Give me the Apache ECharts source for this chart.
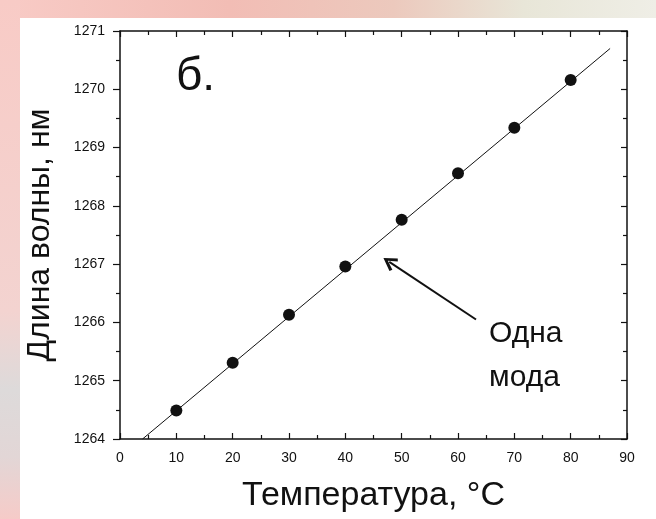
<!DOCTYPE html>
<html>
<head>
<meta charset="utf-8">
<script src="https://cdn.jsdelivr.net/npm/echarts@6/dist/echarts.min.js"></script>
<style>
html,body{margin:0;padding:0;}
#chart{width:656px;height:519px;}
</style>
</head>
<body>
<div id="chart"></div>
<script>
// данные
var temps = [10, 20, 30, 40, 50, 60, 70, 80];
var waves = [1264.49, 1265.31, 1266.13, 1266.96, 1267.76, 1268.56, 1269.34, 1270.16];
// прямая аппроксимации (концы)
var fitX = [4, 87];
var fitY = [1264.0, 1270.7];
// стрелка "Одна мода": хвост -> остриё
var arrowX = [63.2, 47.8];
var arrowY = [1266.05, 1267.04];

var chart = echarts.init(document.getElementById('chart'));
var font = 'Liberation Sans, Arial, sans-serif';

var pts = [];
for (var i = 0; i < temps.length; i++) pts.push([temps[i], waves[i]]);
var fit = [];
for (var j = 0; j < fitX.length; j++) fit.push([fitX[j], fitY[j]]);

var tickStyle = {color: '#111', width: 1.2};
// открытая "галочка" для острия стрелки
var chevron = 'path://M0,0 L7,11.5 L4.6,13.2 L0,5 L-4.6,13.2 L-7,11.5 Z';

var option = {
    backgroundColor: '#ffffff',
    animation: false,
    graphic: [
        // фон скана: полоса сверху и слева
        {type: 'rect', left: 0, top: 0, shape: {width: 656, height: 18}, z: -10,
            style: {fill: new echarts.graphic.LinearGradient(0, 0, 1, 0, [
                {offset: 0, color: '#f8cbc6'},
                {offset: 0.35, color: '#f2bdb5'},
                {offset: 0.6, color: '#ecc9bd'},
                {offset: 0.8, color: '#e8e6d8'},
                {offset: 1, color: '#efeee6'}
            ])}},
        {type: 'rect', left: 0, top: 0, shape: {width: 20, height: 519}, z: -10,
            style: {fill: new echarts.graphic.LinearGradient(0, 0, 0, 1, [
                {offset: 0, color: '#f8cbc6'},
                {offset: 0.6, color: '#f3d3d0'},
                {offset: 0.75, color: '#dddada'},
                {offset: 0.88, color: '#e2d6d6'},
                {offset: 1, color: '#f6cbc8'}
            ])}},
        {type: 'text', left: 176, top: 54, style: {text: 'б.', font: '46px ' + font, fill: '#111'}},
        {type: 'text', left: 489, top: 312, style: {text: 'Одна\nмода', font: '30px ' + font, fill: '#111', lineHeight: 44, align: 'left'}}
    ],
    grid: {left: 120, right: 29, top: 31, bottom: 80},
    xAxis: [{
        type: 'value', min: 0, max: 90, interval: 10,
        name: 'Температура, °C', nameLocation: 'middle', nameGap: 40,
        nameTextStyle: {color: '#111', fontSize: 34, fontFamily: font},
        axisLine: {onZero: false, lineStyle: {color: '#111', width: 1.5}},
        axisTick: {inside: true, length: 6, lineStyle: tickStyle},
        minorTick: {show: true, splitNumber: 2, length: 4, lineStyle: tickStyle},
        axisLabel: {color: '#111', fontSize: 14, fontFamily: font, margin: 12},
        splitLine: {show: false}
    }, {
        type: 'value', min: 0, max: 90, interval: 10, position: 'top',
        axisLine: {onZero: false, lineStyle: {color: '#111', width: 1.5}},
        axisTick: {inside: true, length: 6, lineStyle: tickStyle},
        minorTick: {show: true, splitNumber: 2, length: 4, lineStyle: tickStyle},
        axisLabel: {show: false},
        splitLine: {show: false}
    }],
    yAxis: [{
        type: 'value', min: 1264, max: 1271, interval: 1,
        name: 'Длина волны, нм', nameLocation: 'middle', nameGap: 64, nameRotate: 90,
        nameTextStyle: {color: '#111', fontSize: 32, fontFamily: font},
        axisLine: {onZero: false, lineStyle: {color: '#111', width: 1.5}},
        axisTick: {inside: false, length: 7, lineStyle: tickStyle},
        minorTick: {show: true, splitNumber: 2, length: 4, lineStyle: tickStyle},
        axisLabel: {
            color: '#111', fontSize: 14, fontFamily: font, margin: 15,
            formatter: function (v) { return String(v); }
        },
        splitLine: {show: false}
    }, {
        type: 'value', min: 1264, max: 1271, interval: 1, position: 'right',
        axisLine: {onZero: false, lineStyle: {color: '#111', width: 1.5}},
        axisTick: {inside: true, length: 6, lineStyle: tickStyle},
        minorTick: {show: true, splitNumber: 2, length: 4, lineStyle: tickStyle},
        axisLabel: {show: false},
        splitLine: {show: false}
    }],
    series: [{
        name: 'fit',
        type: 'line',
        data: fit,
        showSymbol: false,
        lineStyle: {color: '#111', width: 1},
        silent: true,
        markLine: {
            silent: true,
            symbol: ['none', chevron],
            symbolSize: [15, 14],
            itemStyle: {color: '#111'},
            lineStyle: {color: '#111', width: 2, type: 'solid'},
            label: {show: false},
            data: [[{coord: [arrowX[0], arrowY[0]]}, {coord: [arrowX[1], arrowY[1]]}]]
        }
    }, {
        name: 'points',
        type: 'scatter',
        data: pts,
        symbol: 'circle',
        symbolSize: 12,
        itemStyle: {color: '#111', opacity: 1}
    }]
};

chart.setOption(option);
window.onresize = function(){
    chart.resize();
};
</script>
</body>
</html>
